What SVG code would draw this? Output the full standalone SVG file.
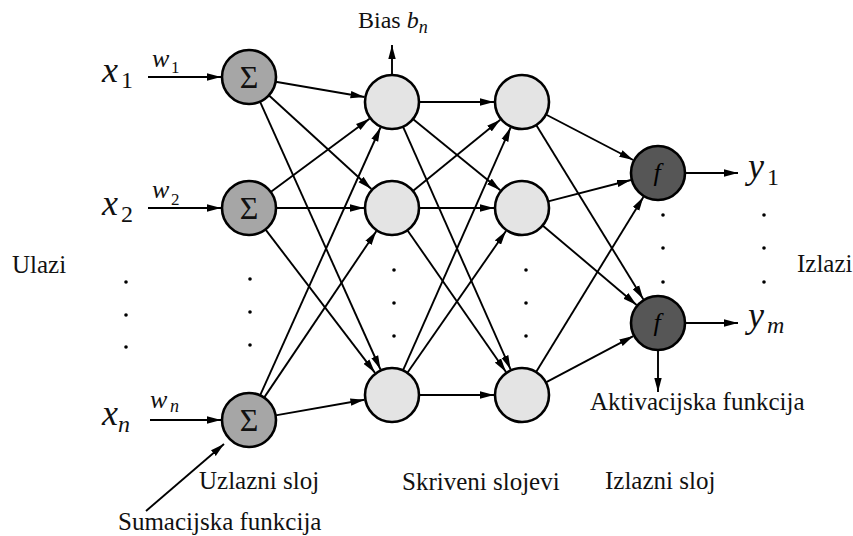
<svg xmlns="http://www.w3.org/2000/svg" width="853" height="536" viewBox="0 0 853 536">
<defs>
<marker id="arr" viewBox="0 0 14 8" refX="14" refY="4" markerWidth="14" markerHeight="8" markerUnits="userSpaceOnUse" orient="auto">
<path d="M0,0.3 L14,4 L0,7.7 z" fill="#000"/>
</marker>
<style>
text{font-family:"Liberation Serif","Times New Roman","DejaVu Serif",serif;fill:#111}
.lbl{font-size:25px}
.it{font-style:italic}
.conn line{stroke:#000;stroke-width:1.9;marker-end:url(#arr)}
.sum{fill:#a6a6a6;stroke:#000;stroke-width:2.6}
.hid{fill:#e4e4e4;stroke:#000;stroke-width:2.6}
.act{fill:#565656;stroke:#000;stroke-width:2.6}
.dot{fill:#000}
</style>
</defs>
<rect width="853" height="536" fill="#fff"/>

<g id="connectors" class="conn">
<!-- inputs -->
<line x1="148" y1="77" x2="221" y2="77"/>
<line x1="148" y1="208" x2="221" y2="208"/>
<line x1="150" y1="420" x2="221" y2="420"/>
<!-- sum -> hidden1 -->
<line x1="275.6" y1="81.8" x2="364.5" y2="97"/>
<line x1="268.8" y1="95.3" x2="371.4" y2="189"/>
<line x1="260" y1="101.6" x2="380.5" y2="369.5"/>
<line x1="270.7" y1="191.9" x2="369.5" y2="118.7"/>
<line x1="276" y1="208" x2="364" y2="208"/>
<line x1="265.4" y1="229.4" x2="375" y2="372.8"/>
<line x1="260.1" y1="395.4" x2="380.5" y2="127.5"/>
<line x1="264.1" y1="397.6" x2="376.3" y2="231.2"/>
<line x1="275.6" y1="415.4" x2="364.4" y2="399.8"/>
<!-- hidden1 -> hidden2 -->
<line x1="419" y1="102" x2="494" y2="102"/>
<line x1="412.9" y1="119.1" x2="500.3" y2="190.3"/>
<line x1="403" y1="126.7" x2="510.6" y2="369.4"/>
<line x1="412.9" y1="190.9" x2="500.3" y2="119.7"/>
<line x1="419" y1="208" x2="494" y2="208"/>
<line x1="407.4" y1="230.2" x2="506" y2="372"/>
<line x1="403" y1="370.3" x2="510.6" y2="127.6"/>
<line x1="407.4" y1="372.8" x2="506" y2="231"/>
<line x1="419" y1="395" x2="494" y2="395"/>
<!-- hidden2 -> output -->
<line x1="545.9" y1="114.5" x2="633.2" y2="160"/>
<line x1="536.2" y1="125" x2="643.3" y2="299.2"/>
<line x1="548.2" y1="201.3" x2="630.9" y2="180"/>
<line x1="542.6" y1="225.4" x2="636.6" y2="304.9"/>
<line x1="536.1" y1="372" x2="643.4" y2="196.9"/>
<line x1="545.9" y1="382.4" x2="633.3" y2="336.1"/>
<!-- outputs -->
<line x1="686" y1="173" x2="738" y2="173"/>
<line x1="686" y1="323" x2="738" y2="323"/>
<!-- annotations -->
<line x1="392" y1="75" x2="392" y2="45"/>
<line x1="658" y1="350" x2="658" y2="392"/>
<line x1="146" y1="511" x2="224" y2="444"/>
</g>

<g id="sum1"><circle class="sum" cx="249" cy="77" r="27"/><text x="249" y="88" font-size="32" text-anchor="middle">Σ</text></g>
<g id="sum2"><circle class="sum" cx="249" cy="208" r="27"/><text x="249" y="219" font-size="32" text-anchor="middle">Σ</text></g>
<g id="sumn"><circle class="sum" cx="249" cy="420" r="27"/><text x="249" y="431" font-size="32" text-anchor="middle">Σ</text></g>

<g id="h1a"><circle class="hid" cx="392" cy="102" r="27"/></g>
<g id="h1b"><circle class="hid" cx="392" cy="208" r="27"/></g>
<g id="h1c"><circle class="hid" cx="392" cy="395" r="27"/></g>
<g id="h2a"><circle class="hid" cx="522" cy="102" r="27"/></g>
<g id="h2b"><circle class="hid" cx="522" cy="208" r="27"/></g>
<g id="h2c"><circle class="hid" cx="522" cy="395" r="27"/></g>

<g id="f1"><circle class="act" cx="658" cy="173" r="27"/><text x="657" y="181" font-size="26" class="it" text-anchor="middle" style="fill:#000">f</text></g>
<g id="f2"><circle class="act" cx="658" cy="323" r="27"/><text x="657" y="331" font-size="26" class="it" text-anchor="middle" style="fill:#000">f</text></g>

<g id="dots">
<circle class="dot" cx="126" cy="282" r="1.8"/><circle class="dot" cx="126" cy="315" r="1.8"/><circle class="dot" cx="126" cy="347" r="1.8"/>
<circle class="dot" cx="250" cy="279" r="1.8"/><circle class="dot" cx="250" cy="312" r="1.8"/><circle class="dot" cx="250" cy="345" r="1.8"/>
<circle class="dot" cx="394" cy="270" r="1.8"/><circle class="dot" cx="394" cy="303" r="1.8"/><circle class="dot" cx="394" cy="336" r="1.8"/>
<circle class="dot" cx="526" cy="270" r="1.8"/><circle class="dot" cx="526" cy="303" r="1.8"/><circle class="dot" cx="526" cy="336" r="1.8"/>
<circle class="dot" cx="663" cy="215" r="1.8"/><circle class="dot" cx="663" cy="248" r="1.8"/><circle class="dot" cx="663" cy="282" r="1.8"/>
<circle class="dot" cx="764" cy="215" r="1.8"/><circle class="dot" cx="764" cy="248" r="1.8"/><circle class="dot" cx="764" cy="282" r="1.8"/>
</g>

<g id="inputs">
<text x="102" y="82" font-size="36" class="it">x</text><text x="121" y="88" font-size="24">1</text>
<text x="102" y="215" font-size="36" class="it">x</text><text x="121" y="222" font-size="24">2</text>
<text x="102" y="425" font-size="36" class="it">x</text><text x="118" y="432" font-size="24" class="it">n</text>
</g>
<g id="weights">
<text x="152" y="67" font-size="26" class="it">w</text><text x="171" y="73" font-size="17">1</text>
<text x="152" y="198" font-size="26" class="it">w</text><text x="171" y="205" font-size="17">2</text>
<text x="150" y="408" font-size="26" class="it">w</text><text x="170" y="412" font-size="18" class="it">n</text>
</g>
<g id="outputs">
<text x="748" y="178" font-size="36" class="it">y</text><text x="767" y="185" font-size="24">1</text>
<text x="748" y="327" font-size="36" class="it">y</text><text x="767" y="333" font-size="24" class="it">m</text>
</g>
<g id="labels">
<text x="358" y="28" font-size="24">Bias <tspan class="it">b</tspan><tspan font-size="18" class="it" dy="5">n</tspan></text>
<text class="lbl" x="12" y="273">Ulazi</text>
<text class="lbl" x="797" y="272">Izlazi</text>
<text class="lbl" x="199" y="489">Uzlazni sloj</text>
<text class="lbl" x="402" y="490">Skriveni slojevi</text>
<text class="lbl" x="605" y="489">Izlazni sloj</text>
<text class="lbl" x="118" y="530">Sumacijska funkcija</text>
<text class="lbl" x="590" y="410" font-size="26">Aktivacijska funkcija</text>
</g>
</svg>
